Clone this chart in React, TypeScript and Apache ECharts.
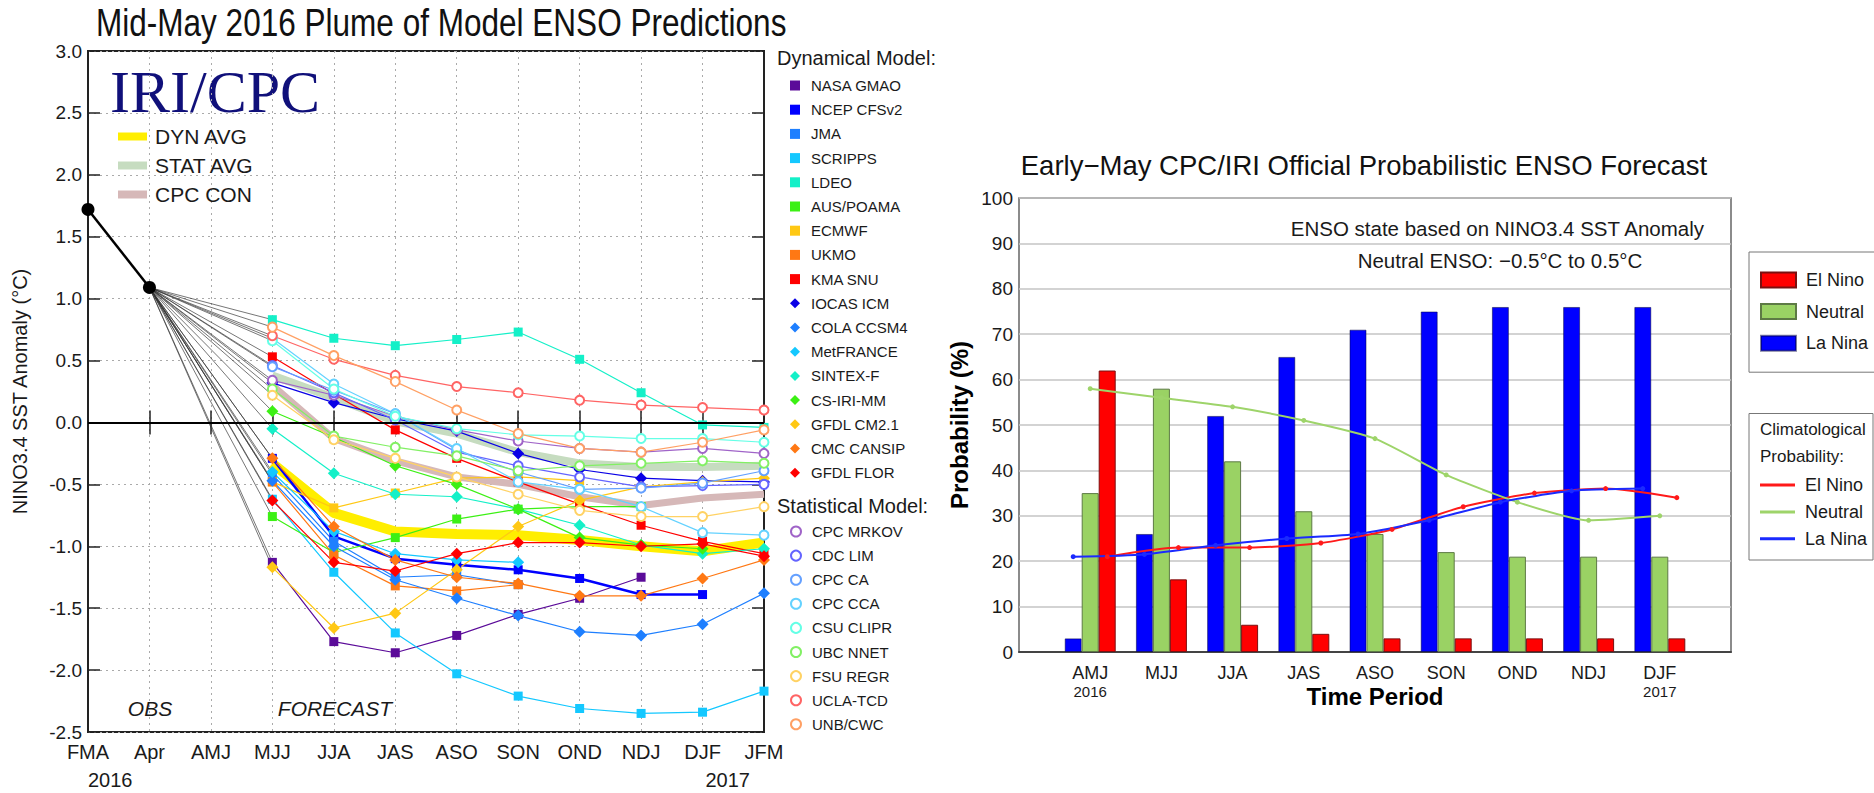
import React, { useEffect, useRef } from "react";
import * as echarts from "echarts";

// ---------------- Left chart: plume of model ENSO predictions ----------------
const plumeSeasons = ["FMA", "Apr", "AMJ", "MJJ", "JJA", "JAS", "ASO", "SON", "OND", "NDJ", "DJF", "JFM"];
const plumeYearLabels = ["2016", "2017"];
const observed = [1.72, 1.09]; // FMA, Apr
const forecastStart = "MJJ";

// Dynamical models (MJJ onward)
const nasaGmao = [-1.13, -1.77, -1.86, -1.72, -1.55, -1.42, -1.25];
const ncepCfsv2 = [-0.29, -0.92, -1.1, -1.15, -1.19, -1.26, -1.39, -1.39];
const jma = [-0.42, -0.96, -1.25, -1.23, -1.31];
const scripps = [-0.62, -1.21, -1.7, -2.03, -2.21, -2.31, -2.35, -2.34, -2.17];
const ldeo = [0.83, 0.68, 0.62, 0.67, 0.73, 0.51, 0.24, -0.02, -0.04];
const ausPoama = [-0.76, -1.05, -0.93, -0.78, -0.7, -0.68, -0.68];
const ecmwf = [-0.48, -0.69, -0.57, -0.45, -0.44, -0.47];
const ukmo = [-0.48, -1.07, -1.32, -1.36, -1.31];
const kmaSnu = [0.53, 0.23, -0.06, -0.29, -0.48, -0.66, -0.83, -0.96, -1.06];
const iocasIcm = [0.32, 0.16, 0.03, -0.07, -0.25, -0.38, -0.45, -0.47, -0.48];
const colaCcsm4 = [-0.47, -1.0, -1.27, -1.42, -1.56, -1.69, -1.72, -1.63, -1.38];
const metFrance = [-0.4, -0.88, -1.06, -1.11, -1.13];
const sintexF = [-0.05, -0.41, -0.58, -0.6, -0.7, -0.83, -0.99, -1.06, -1.02];
const csIriMm = [0.09, -0.12, -0.35, -0.5, -0.7, -0.93, -0.99, -1.02];
const gfdlCm21 = [-1.17, -1.66, -1.54, -1.19, -0.84, -0.63, -0.52, -0.48, -0.45];
const cmcCansip = [-0.29, -0.84, -1.11, -1.25, -1.3, -1.4, -1.4, -1.26, -1.11];
const gfdlFlor = [-0.63, -1.13, -1.2, -1.06, -0.97, -0.97, -1.0, -0.98, -1.08];

// Statistical models (MJJ onward)
const cpcMrkov = [0.34, 0.22, 0.05, -0.06, -0.15, -0.21, -0.24, -0.21, -0.25];
const cdcLim = [0.46, 0.24, 0.02, -0.24, -0.35, -0.44, -0.52, -0.51, -0.5];
const cpcCa = [0.45, 0.26, 0.07, -0.22, -0.4, -0.54, -0.53, -0.49, -0.39];
const cpcCca = [0.68, 0.31, 0.07, -0.21, -0.48, -0.54, -0.68, -0.89, -0.91];
const csuClipr = [0.66, 0.27, 0.05, -0.05, -0.1, -0.11, -0.13, -0.13, -0.16];
const ubcNnet = [0.27, -0.11, -0.2, -0.27, -0.39, -0.35, -0.33, -0.31, -0.33];
const fsuRegr = [0.22, -0.14, -0.29, -0.44, -0.58, -0.71, -0.76, -0.76, -0.68];
const uclaTcd = [0.7, 0.51, 0.38, 0.29, 0.24, 0.18, 0.14, 0.12, 0.1];
const unbCwc = [0.77, 0.54, 0.33, 0.1, -0.09, -0.21, -0.24, -0.16, -0.06];

// Averages (MJJ onward)
const dynAvg = [-0.33, -0.73, -0.88, -0.9, -0.91, -0.95, -1.0, -1.04, -0.97];
const statAvg = [0.38, 0.2, 0.01, -0.09, -0.24, -0.33, -0.36, -0.36, -0.35];
const cpcCon = [0.3, -0.13, -0.31, -0.44, -0.5, -0.6, -0.67, -0.61, -0.58];

const dynModels = [
  { name: "NASA GMAO", data: nasaGmao, color: "#5b0b99", symbol: "rect" },
  { name: "NCEP CFSv2", data: ncepCfsv2, color: "#0000ff", symbol: "rect" },
  { name: "JMA", data: jma, color: "#1e7fff", symbol: "rect" },
  { name: "SCRIPPS", data: scripps, color: "#14c8ff", symbol: "rect" },
  { name: "LDEO", data: ldeo, color: "#14f0c8", symbol: "rect" },
  { name: "AUS/POAMA", data: ausPoama, color: "#3cf014", symbol: "rect" },
  { name: "ECMWF", data: ecmwf, color: "#ffc814", symbol: "rect" },
  { name: "UKMO", data: ukmo, color: "#ff7814", symbol: "rect" },
  { name: "KMA SNU", data: kmaSnu, color: "#ff0000", symbol: "rect" },
  { name: "IOCAS ICM", data: iocasIcm, color: "#0a00e6", symbol: "diamond" },
  { name: "COLA CCSM4", data: colaCcsm4, color: "#1e7fff", symbol: "diamond" },
  { name: "MetFRANCE", data: metFrance, color: "#14c8ff", symbol: "diamond" },
  { name: "SINTEX-F", data: sintexF, color: "#14f0c8", symbol: "diamond" },
  { name: "CS-IRI-MM", data: csIriMm, color: "#3cf014", symbol: "diamond" },
  { name: "GFDL CM2.1", data: gfdlCm21, color: "#ffc814", symbol: "diamond" },
  { name: "CMC CANSIP", data: cmcCansip, color: "#ff7814", symbol: "diamond" },
  { name: "GFDL FLOR", data: gfdlFlor, color: "#ff0000", symbol: "diamond" },
];
const statModels = [
  { name: "CPC MRKOV", data: cpcMrkov, color: "#a064c8" },
  { name: "CDC LIM", data: cdcLim, color: "#6464ff" },
  { name: "CPC CA", data: cpcCa, color: "#64a0ff" },
  { name: "CPC CCA", data: cpcCca, color: "#64d2ff" },
  { name: "CSU CLIPR", data: csuClipr, color: "#64ffe6" },
  { name: "UBC NNET", data: ubcNnet, color: "#82f064" },
  { name: "FSU REGR", data: fsuRegr, color: "#ffd264" },
  { name: "UCLA-TCD", data: uclaTcd, color: "#ff6464" },
  { name: "UNB/CWC", data: unbCwc, color: "#ffa064" },
];
const averages = [
  { name: "DYN AVG", data: dynAvg, color: "#ffee00", width: 10 },
  { name: "STAT AVG", data: statAvg, color: "#c6dcc0", width: 8 },
  { name: "CPC CON", data: cpcCon, color: "#d6b8b8", width: 7 },
];

// ---------------- Right chart: probabilistic forecast ----------------
const probSeasons = ["AMJ", "MJJ", "JJA", "JAS", "ASO", "SON", "OND", "NDJ", "DJF"];
const probYearLabels = { AMJ: "2016", DJF: "2017" } as Record<string, string>;
const laNinaProb = [3, 26, 52, 65, 71, 75, 76, 76, 76];
const neutralProb = [35, 58, 42, 31, 26, 22, 21, 21, 21];
const elNinoProb = [62, 16, 6, 4, 3, 3, 3, 3, 3];
const climElNino = [21, 23, 23, 24, 27, 32, 35, 36, 34];
const climNeutral = [58, 56, 54, 51, 47, 39, 33, 29, 30];
const climLaNina = [21, 21.5, 23.5, 25, 26, 29, 33, 35.5, 36];

const FONT = '"Liberation Sans", Arial, Helvetica, sans-serif';
const SERIF = '"Liberation Serif", "Times New Roman", serif';

function pad(arr: (number | null)[], start: number, total: number) {
  const out: (number | null)[] = new Array(total).fill(null);
  arr.forEach((v, i) => (out[start + i] = v));
  return out;
}

function buildOption(): any {
  const nPlume = plumeSeasons.length;
  const fStart = plumeSeasons.indexOf(forecastStart);
  const aprIdx = plumeSeasons.indexOf("Apr");

  const series: any[] = [];

  // observed
  series.push({
    name: "OBS",
    type: "line",
    xAxisIndex: 0,
    yAxisIndex: 0,
    data: pad(observed, 0, nPlume),
    symbol: "circle",
    symbolSize: 13,
    itemStyle: { color: "#000" },
    lineStyle: { color: "#000", width: 2.5 },
    z: 6,
    markLine: {
      silent: true,
      symbol: "none",
      label: { show: false },
      lineStyle: { color: "#000", width: 2, type: "solid" },
      data: [{ yAxis: 0 }],
    },
  });

  const allModels = [
    ...dynModels.map((m) => ({ ...m, stat: false })),
    ...statModels.map((m) => ({ ...m, symbol: "emptyCircle", stat: true })),
  ];

  // connectors from the last observation to the first forecast
  allModels.forEach((m) => {
    const d: (number | null)[] = new Array(nPlume).fill(null);
    d[aprIdx] = observed[observed.length - 1];
    d[fStart] = m.data[0];
    series.push({
      name: "link " + m.name,
      type: "line",
      xAxisIndex: 0,
      yAxisIndex: 0,
      data: d,
      connectNulls: true,
      showSymbol: false,
      symbol: "none",
      lineStyle: { color: "#333", width: 0.9, opacity: 0.75 },
      z: 2,
    });
  });

  // averages
  averages.forEach((a) => {
    series.push({
      name: a.name,
      type: "line",
      xAxisIndex: 0,
      yAxisIndex: 0,
      data: pad(a.data, fStart, nPlume),
      showSymbol: false,
      symbol: "none",
      itemStyle: { color: a.color },
      lineStyle: { color: a.color, width: a.width },
      z: 3,
    });
  });

  // models
  allModels.forEach((m) => {
    series.push({
      name: m.name,
      type: "line",
      xAxisIndex: 0,
      yAxisIndex: 0,
      data: pad(m.data, fStart, nPlume),
      symbol: m.symbol,
      symbolSize: m.stat ? 9 : m.symbol === "diamond" ? 12 : 9,
      showAllSymbol: true,
      itemStyle: { color: m.color, borderWidth: m.stat ? 2 : 0 },
      lineStyle: { color: m.color, width: m.name === "NCEP CFSv2" ? 2.5 : 1.2 },
      z: 4,
    });
  });

  // right chart bars
  const nProb = probSeasons.length + 2;
  const barBase = {
    type: "bar",
    xAxisIndex: 2,
    yAxisIndex: 2,
    barWidth: 17,
    barGap: "0%",
    z: 2,
  };
  series.push({ ...barBase, name: "La Nina", data: pad(laNinaProb, 1, nProb), itemStyle: { color: "#0000ff", borderColor: "rgba(0,0,60,0.5)", borderWidth: 1 } });
  series.push({ ...barBase, name: "Neutral", data: pad(neutralProb, 1, nProb), itemStyle: { color: "#9ad264", borderColor: "#5d7a45", borderWidth: 1 } });
  series.push({ ...barBase, name: "El Nino", data: pad(elNinoProb, 1, nProb), itemStyle: { color: "#ff0000", borderColor: "#7a1010", borderWidth: 1 } });

  // climatological lines (placed at their bar's offset)
  const off = 17 / 71.1;
  const climLines = [
    { name: "Clim El Nino", data: climElNino, color: "#ff1a1a", offset: off },
    { name: "Clim Neutral", data: climNeutral, color: "#9ed46a", offset: 0 },
    { name: "Clim La Nina", data: climLaNina, color: "#1a2aff", offset: -off },
  ];
  climLines.forEach((c) => {
    series.push({
      name: c.name,
      type: "line",
      xAxisIndex: 3,
      yAxisIndex: 2,
      data: c.data.map((v, i) => [i + 1 + c.offset, v]),
      symbol: "circle",
      symbolSize: 5,
      itemStyle: { color: c.color },
      lineStyle: { color: c.color, width: 2 },
      smooth: 0.2,
      z: 5,
    });
  });

  const textColor = "#1a1a1a";

  return {
    animation: false,
    backgroundColor: "#fff",
    textStyle: { fontFamily: FONT },
    grid: [
      { left: 88, top: 51, width: 676, height: 681, show: true, borderColor: "#222", borderWidth: 2, backgroundColor: "transparent" },
      { left: 1019, top: 198, width: 712, height: 454, show: true, borderColor: "#666", borderWidth: 1.5, backgroundColor: "transparent" },
    ],
    xAxis: [
      {
        type: "category",
        gridIndex: 0,
        data: plumeSeasons,
        boundaryGap: false,
        axisLine: { lineStyle: { color: "#222", width: 2 } },
        axisTick: { inside: true, length: 12, interval: 0, lineStyle: { color: "#222", width: 1.5 } },
        axisLabel: { fontSize: 20, color: textColor, margin: 10, interval: 0, fontFamily: FONT },
        splitLine: { show: true, interval: 0, lineStyle: { color: "#aaa", type: [2, 4], width: 1 } },
      },
      {
        type: "category",
        gridIndex: 0,
        position: "top",
        data: plumeSeasons,
        boundaryGap: false,
        axisLine: { lineStyle: { color: "#222", width: 2 } },
        axisTick: { inside: true, length: 12, interval: 0, lineStyle: { color: "#222", width: 1.5 } },
        axisLabel: { show: false },
        splitLine: { show: false },
      },
      {
        type: "category",
        gridIndex: 1,
        data: ["", ...probSeasons, ""],
        boundaryGap: false,
        axisLine: { lineStyle: { color: "#444", width: 2 } },
        axisTick: { show: false },
        axisLabel: {
          interval: 0,
          fontSize: 18,
          color: textColor,
          margin: 11,
          lineHeight: 19,
          formatter: (v: string) => (probYearLabels[v] ? `${v}\n{yr|${probYearLabels[v]}}` : v),
          rich: { yr: { fontSize: 15, color: textColor, lineHeight: 19, fontFamily: FONT } },
        },
        splitLine: { show: false },
        name: "Time Period",
        nameLocation: "middle",
        nameGap: 32,
        nameMoveOverlap: false,
        nameTextStyle: { fontSize: 24, fontWeight: "bold", color: "#000", fontFamily: FONT },
      },
      { type: "value", gridIndex: 1, min: 0, max: 10, show: false },
    ],
    yAxis: [
      {
        type: "value",
        gridIndex: 0,
        min: -2.5,
        max: 3,
        interval: 0.5,
        axisLine: { show: true, lineStyle: { color: "#222", width: 2 } },
        axisTick: { show: true, inside: true, length: 12, lineStyle: { color: "#222", width: 1.5 } },
        axisLabel: { fontSize: 19, color: textColor, margin: 6, formatter: (v: number) => v.toFixed(1), fontFamily: FONT },
        splitLine: { show: true, lineStyle: { color: "#aaa", type: [2, 4], width: 1 } },
        name: "NINO3.4 SST Anomaly (°C)",
        nameLocation: "middle",
        nameGap: 58,
        nameMoveOverlap: false,
        nameTextStyle: { fontSize: 20, color: textColor, fontFamily: FONT },
      },
      {
        type: "value",
        gridIndex: 0,
        position: "right",
        min: -2.5,
        max: 3,
        interval: 0.5,
        axisLine: { show: true, lineStyle: { color: "#222", width: 2 } },
        axisTick: { show: true, inside: true, length: 12, lineStyle: { color: "#222", width: 1.5 } },
        axisLabel: { show: false },
        splitLine: { show: false },
      },
      {
        type: "value",
        gridIndex: 1,
        min: 0,
        max: 100,
        interval: 10,
        axisLine: { show: false },
        axisTick: { show: false },
        axisLabel: { fontSize: 19, color: textColor, margin: 6, fontFamily: FONT },
        splitLine: { show: true, lineStyle: { color: "#c4c4c4", width: 1.5 } },
        name: "Probability (%)",
        nameLocation: "middle",
        nameGap: 48,
        nameMoveOverlap: false,
        nameTextStyle: { fontSize: 24, fontWeight: "bold", color: "#000", fontFamily: FONT },
      },
    ],
    legend: [
      {
        orient: "vertical",
        left: 790,
        top: 78,
        padding: 0,
        selectedMode: false,
        itemWidth: 10,
        itemHeight: 10,
        itemGap: 9.2,
        textStyle: { fontSize: 15, lineHeight: 15, color: textColor, fontFamily: FONT, padding: [0, 0, 0, 6] },
        data: dynModels.map((m) => ({ name: m.name, icon: m.symbol })),
      },
      {
        orient: "vertical",
        left: 790,
        top: 524,
        padding: 0,
        selectedMode: false,
        itemWidth: 10,
        itemHeight: 10,
        itemGap: 9.1,
        textStyle: { fontSize: 15, lineHeight: 15, color: textColor, fontFamily: FONT, padding: [0, 0, 0, 6] },
        data: statModels.map((m) => ({ name: m.name, icon: "emptyCircle" })),
      },
      {
        orient: "vertical",
        left: 118,
        top: 126,
        padding: 0,
        selectedMode: false,
        itemWidth: 29,
        itemHeight: 8,
        itemGap: 8,
        textStyle: { fontSize: 21, lineHeight: 21, color: textColor, fontFamily: FONT, padding: [0, 0, 0, 3] },
        data: averages.map((a) => ({ name: a.name, icon: "rect" })),
      },
      {
        orient: "vertical",
        left: 1749,
        top: 252,
        selectedMode: false,
        padding: [19, 16, 20, 11],
        borderColor: "#777",
        borderWidth: 1,
        itemWidth: 35,
        itemHeight: 15,
        itemGap: 13.6,
        textStyle: { fontSize: 18, lineHeight: 18, color: textColor, fontFamily: FONT, padding: [0, 0, 0, 5] },
        data: ["El Nino", "Neutral", "La Nina"].map((n) => ({ name: n, icon: "rect" })),
      },
      {
        orient: "vertical",
        left: 1760,
        top: 476,
        selectedMode: false,
        padding: 0,
        itemWidth: 35,
        itemHeight: 3,
        itemGap: 8.9,
        formatter: (n: string) => n.replace("Clim ", ""),
        textStyle: { fontSize: 18, lineHeight: 18, color: textColor, fontFamily: FONT, padding: [0, 0, 0, 5] },
        data: climLines.map((c) => ({ name: c.name, icon: "rect" })),
      },
    ],
    graphic: [
      {
        type: "text",
        x: 96,
        y: 22,
        scaleX: 0.83,
        style: { text: "Mid-May 2016 Plume of Model ENSO Predictions", fontSize: 38, fontFamily: FONT, fill: "#111", verticalAlign: "middle", align: "left" },
      },
      {
        type: "text",
        x: 110,
        y: 92,
        style: { text: "IRI/CPC", fontSize: 60, fontFamily: SERIF, fill: "#10107a", verticalAlign: "middle", align: "left" },
      },
      {
        type: "text",
        x: 150,
        y: 708,
        style: { text: "OBS", fontSize: 21, fontStyle: "italic", fontFamily: FONT, fill: textColor, verticalAlign: "middle", align: "center" },
      },
      {
        type: "text",
        x: 335,
        y: 708,
        style: { text: "FORECAST", fontSize: 21, fontStyle: "italic", fontFamily: FONT, fill: textColor, verticalAlign: "middle", align: "center" },
      },
      {
        type: "text",
        x: 88,
        y: 780,
        style: { text: plumeYearLabels[0], fontSize: 20, fontFamily: FONT, fill: textColor, verticalAlign: "middle", align: "left" },
      },
      {
        type: "text",
        x: 750,
        y: 780,
        style: { text: plumeYearLabels[1], fontSize: 20, fontFamily: FONT, fill: textColor, verticalAlign: "middle", align: "right" },
      },
      {
        type: "text",
        x: 777,
        y: 58,
        style: { text: "Dynamical Model:", fontSize: 20, fontFamily: FONT, fill: textColor, verticalAlign: "middle", align: "left" },
      },
      {
        type: "text",
        x: 777,
        y: 506,
        style: { text: "Statistical Model:", fontSize: 20, fontFamily: FONT, fill: textColor, verticalAlign: "middle", align: "left" },
      },
      {
        type: "text",
        x: 1364,
        y: 165,
        style: { text: "Early\u2212May CPC/IRI Official Probabilistic ENSO Forecast", fontSize: 27.5, fontFamily: FONT, fill: "#111", verticalAlign: "middle", align: "center" },
      },
      {
        type: "text",
        x: 1704,
        y: 228,
        style: { text: "ENSO state based on NINO3.4 SST Anomaly", fontSize: 20.5, fontFamily: FONT, fill: textColor, verticalAlign: "middle", align: "right" },
      },
      {
        type: "text",
        x: 1500,
        y: 260,
        style: { text: "Neutral ENSO: \u22120.5°C to 0.5°C", fontSize: 20.5, fontFamily: FONT, fill: textColor, verticalAlign: "middle", align: "center" },
      },
      {
        type: "rect",
        shape: { x: 1749, y: 413.5, width: 124, height: 146.5 },
        style: { fill: "#fff", stroke: "#777", lineWidth: 1 },
        z: -1,
      },
      {
        type: "text",
        x: 1760,
        y: 429,
        style: { text: "Climatological", fontSize: 17, fontFamily: FONT, fill: textColor, verticalAlign: "middle", align: "left" },
      },
      {
        type: "text",
        x: 1760,
        y: 456,
        style: { text: "Probability:", fontSize: 17, fontFamily: FONT, fill: textColor, verticalAlign: "middle", align: "left" },
      },
    ],
    series,
  };
}

export default function App() {
  const ref = useRef<HTMLDivElement>(null);
  useEffect(() => {
    if (!ref.current) return;
    const chart = echarts.init(ref.current, null, { renderer: "svg" });
    chart.setOption(buildOption());
    return () => chart.dispose();
  }, []);
  return (
    <div
      ref={ref}
      style={{ position: "fixed", left: 0, top: 0, width: "1874px", height: "793px", background: "#fff" }}
    />
  );
}
